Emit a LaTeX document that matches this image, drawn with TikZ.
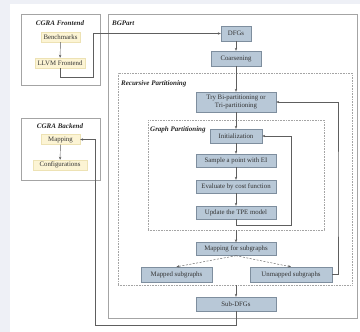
\documentclass[tikz,border=0pt]{standalone}
\usepackage{fontspec}
\setmainfont{Liberation Serif}
\usetikzlibrary{arrows.meta}
\definecolor{pagebg}{HTML}{EEF0F6}
\definecolor{stepblue}{HTML}{B8C8D7}
\definecolor{stepline}{HTML}{7E8E9E}
\definecolor{codeyellow}{HTML}{FCF4D4}
\definecolor{codeline}{HTML}{EDE2B4}
\definecolor{framegray}{HTML}{A4A4A4}
\definecolor{flowgray}{HTML}{5E5E5E}
\tikzset{
  bluebox/.style={draw=stepline, fill=stepblue, inner sep=0pt, text=black!80,
    font=\fontsize{6.8}{7.6}\selectfont, align=center},
  yellowbox/.style={draw=codeline, fill=codeyellow, inner sep=0pt, text=black!80,
    font=\fontsize{6.8}{7.6}\selectfont},
  solidframe/.style={draw=framegray, line width=0.5pt, inner sep=0pt},
  dotframe/.style={draw=framegray, line width=0.5pt, inner sep=0pt,
    dash pattern=on 0.8pt off 0.8pt},
  frametitle/.style={font=\fontsize{7}{8}\selectfont\bfseries\itshape, text=black!85, inner sep=0pt},
  flow/.style={draw=flowgray, line width=0.45pt, -{Stealth[length=3pt,width=2.4pt]}},
  dashflow/.style={flow, dash pattern=on 2pt off 1.5pt}
}
\begin{document}
\begin{tikzpicture}[x=1pt, y=-1pt]
  \useasboundingbox (0,0) rectangle (360,332);
  \fill[pagebg] (0,0) rectangle (360,332);
  \fill[white] (10,4) rectangle (360,332);

  % CGRA Frontend
  \node[solidframe, minimum width=79pt, minimum height=71pt] (feframe) at (60.5,49.5) {};
  \node[frametitle] (fetitle) at (60,23) {CGRA Frontend};
  \node[yellowbox, minimum width=39pt, minimum height=10pt] (bench) at (60.5,37) {Benchmarks};
  \node[yellowbox, minimum width=50pt, minimum height=10pt] (llvm) at (60,63) {LLVM Frontend};

  % CGRA Backend
  \node[solidframe, minimum width=79pt, minimum height=62pt] (beframe) at (60.5,149) {};
  \node[frametitle] (betitle) at (60,126) {CGRA Backend};
  \node[yellowbox, minimum width=39pt, minimum height=10pt] (mapping) at (60.5,139.5) {Mapping};
  \node[yellowbox, minimum width=54pt, minimum height=10pt] (config) at (60,165) {Configurations};

  % BGPart
  \node[solidframe, minimum width=249pt, minimum height=304pt] (bgframe) at (232.5,166) {};
  \node[frametitle, anchor=west] (bgtitle) at (112,23) {BGPart};
  \node[bluebox, minimum width=30pt, minimum height=15pt] (dfg) at (236,33.5) {DFGs};
  \node[bluebox, minimum width=50pt, minimum height=15pt] (coarse) at (236,58.5) {Coarsening};

  % Recursive Partitioning
  \node[dotframe, minimum width=234pt, minimum height=212pt] (rpframe) at (235,179) {};
  \node[frametitle, anchor=west] (rptitle) at (121,84) {Recursive Partitioning};
  \node[bluebox, minimum width=80pt, minimum height=20pt] (try) at (236,102)
    {Try Bi-partitioning or\\Tri-partitioning};

  % Graph Partitioning
  \node[dotframe, minimum width=176pt, minimum height=110pt] (gpframe) at (236,175) {};
  \node[frametitle, anchor=west] (gptitle) at (150,130) {Graph Partitioning};
  \node[bluebox, minimum width=52pt, minimum height=14pt] (init) at (236,136) {Initialization};
  \node[bluebox, minimum width=80pt, minimum height=13pt] (sample) at (236,160.5) {Sample a point with EI};
  \node[bluebox, minimum width=80pt, minimum height=13pt] (eval) at (236,186.5) {Evaluate by cost function};
  \node[bluebox, minimum width=80pt, minimum height=13pt] (update) at (236,212.5) {Update the TPE model};

  % Mapping results
  \node[bluebox, minimum width=80pt, minimum height=13pt] (mapsub) at (236,249) {Mapping for subgraphs};
  \node[bluebox, minimum width=71pt, minimum height=15pt] (mapped) at (176.5,274.5) {Mapped subgraphs};
  \node[bluebox, minimum width=82pt, minimum height=15pt] (unmapped) at (291,274.5) {Unmapped subgraphs};
  \node[bluebox, minimum width=80pt, minimum height=14pt] (subdfg) at (236,304) {Sub-DFGs};

  % turning points
  \coordinate (feturn) at (93,77);
  \coordinate (gploop) at (291,225);
  \coordinate (rploop) at (338,200);
  \coordinate (beturn) at (95,325);

  % connectors
  \draw[flow] (bench) -- (llvm);
  \draw[flow] (mapping) -- (config);
  \draw[flow] (llvm.south) |- (feturn) |- (dfg.west);
  \draw[flow] (dfg) -- (coarse);
  \draw[flow] (coarse) -- (try);
  \draw[flow] (try) -- (init);
  \draw[flow] (init) -- (sample);
  \draw[flow] (sample) -- (eval);
  \draw[flow] (eval) -- (update);
  \draw[flow] (update.south) |- (gploop) |- (init.east);
  \draw[flow] (gpframe.south) -- (mapsub);
  \draw[dashflow] (mapsub.south) -- (mapped.north);
  \draw[dashflow] (mapsub.south) -- (unmapped.north);
  \draw[flow] (unmapped.east) -| (rploop) |- (try.east);
  \draw[flow] (rpframe.south -| subdfg) -- (subdfg);
  \draw[flow] (subdfg.south) |- (beturn) |- (mapping.east);
\end{tikzpicture}
\end{document}
